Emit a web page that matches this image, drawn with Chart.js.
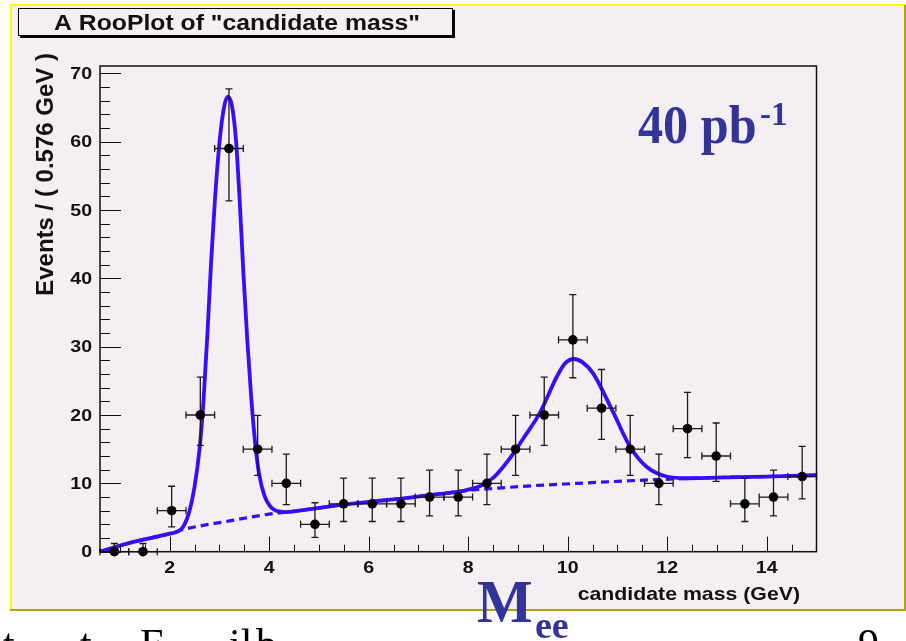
<!DOCTYPE html>
<html>
<head>
<meta charset="utf-8">
<script src="https://cdn.jsdelivr.net/npm/chart.js@4/dist/chart.umd.min.js"></script>
<style>
  html, body { margin: 0; padding: 0; background: #ffffff; }
  canvas { display: block; }
</style>
</head>
<body>
<canvas id="grafico" width="906" height="641"></canvas>
<script>
// datos del histograma (bin de 0.576 GeV entre 0.6 y 15)
const centrosBin = [0.888, 1.464, 2.040, 2.616, 3.192, 3.768, 4.344, 4.920, 5.496, 6.072, 6.648, 7.224,
  7.800, 8.376, 8.952, 9.528, 10.104, 10.680, 11.256, 11.832, 12.408, 12.984, 13.560, 14.136, 14.712];
const eventos = [0, 0, 6, 20, 59, 15, 10, 4, 7, 7, 7, 8, 8, 10, 15, 20, 31, 21, 15, 10, 18, 14, 7, 8, 11];
const errInf = [0, 0, 2.38, 4.45, 7.66, 3.83, 3.11, 1.91, 2.58, 2.58, 2.58, 2.77, 2.77, 3.11, 3.83, 4.45,
  5.55, 4.56, 3.83, 3.11, 4.22, 3.70, 2.58, 2.77, 3.27];
const errSup = [1.2, 1.2, 3.58, 5.55, 8.72, 4.96, 4.27, 3.16, 3.77, 3.77, 3.77, 3.95, 3.95, 4.27, 4.96, 5.55,
  6.61, 5.66, 4.96, 4.27, 5.32, 4.83, 3.77, 3.95, 4.42];
const mediaBin = 0.288;

// ajuste total (señal + fondo)
const ajusteX = [0.6, 1.2, 2.0, 2.2, 2.3, 2.4, 2.5, 2.6, 2.68, 2.76, 2.83, 2.91, 3.01, 3.1, 3.17, 3.25,
  3.33, 3.41, 3.48, 3.56, 3.64, 3.72, 3.8, 3.9, 4.05, 4.3, 4.6, 5.4, 6.0, 6.7, 7.3, 7.9, 8.24, 8.5, 8.7,
  8.91, 9.11, 9.44, 9.78, 9.95, 10.13, 10.3, 10.51, 10.92, 11.25, 11.59, 11.99, 12.4, 13.0, 14.0, 15.0];
const ajusteY = [0, 1.3, 2.65, 3.1, 4.0, 6.0, 9.5, 15.0, 22.0, 32.0, 42, 51.5, 60.5, 65.3, 66.6, 65.3,
  60.5, 51, 41, 31, 22.5, 15.8, 11.3, 8.3, 6.4, 5.8, 6.0, 6.8, 7.3, 7.8, 8.35, 8.9, 9.6, 10.8, 12.4,
  14.4, 16.6, 20.3, 25.6, 27.6, 28.2, 27.7, 26.1, 20.3, 15.4, 12.4, 11.0, 10.75, 10.85, 11.0, 11.2];

// solo fondo (línea discontinua)
const fondoX = [0.6, 1.2, 2.0, 2.3, 3.2, 4.0, 4.6, 5.4, 6.0, 6.7, 7.3, 7.9, 8.6, 9.4, 10.2, 11.0, 11.8,
  12.4, 13.0, 14.0, 15.0];
const fondoY = [0, 1.3, 2.65, 3.3, 4.5, 5.5, 6.0, 6.8, 7.3, 7.8, 8.35, 8.9, 9.3, 9.7, 10.0, 10.3, 10.55,
  10.7, 10.85, 11.0, 11.2];

// marcas de los ejes
const ticksX = [2, 4, 6, 8, 10, 12, 14];
const ticksY = [0, 10, 20, 30, 40, 50, 60, 70];
const etiquetasX = ["2", "4", "6", "8", "10", "12", "14"];
const etiquetasY = ["0", "10", "20", "30", "40", "50", "60", "70"];

const AZUL = "#3a0cff";
const AZUL_TEXTO = "#333399";
const LILA = "#f4eff3";
const SANS = "'Liberation Sans', Arial, sans-serif";
const SERIF = "'Liberation Serif', 'Times New Roman', serif";

function texto(ctx, s, x, y, fuente, alin, escala) {
  ctx.save();
  ctx.translate(x, y);
  ctx.scale(escala || 1, 1);
  ctx.font = fuente;
  ctx.textAlign = alin || "left";
  ctx.fillText(s, 0, 0);
  ctx.restore();
}

const pluginFondo = {
  id: "fondo",
  beforeDraw(chart) {
    const ctx = chart.ctx;
    ctx.save();
    ctx.fillStyle = "#ffffff";
    ctx.fillRect(0, 0, chart.width, chart.height);
    ctx.fillStyle = LILA;
    ctx.fillRect(11, 6, 894, 604);
    // bordes del lienzo
    ctx.fillStyle = "#ffff00";
    ctx.fillRect(10, 4, 896, 2);
    ctx.fillRect(10, 4, 2, 607);
    ctx.fillStyle = "#a8a800";
    ctx.fillRect(904, 5, 2, 606);
    ctx.fillRect(10, 609, 896, 2);

    // caja del título
    ctx.fillStyle = "#000";
    ctx.fillRect(452, 10, 3, 28);
    ctx.fillRect(20, 35, 435, 3);
    ctx.fillStyle = LILA;
    ctx.fillRect(18, 8, 434, 27);
    ctx.strokeStyle = "#000";
    ctx.lineWidth = 1;
    ctx.strokeRect(18.5, 8.5, 434, 27);
    ctx.fillStyle = "#111";
    texto(ctx, 'A RooPlot of "candidate mass"', 237, 29.5, "bold 22.5px " + SANS, "center", 1.1);
    ctx.restore();
  }
};

const pluginErrores = {
  id: "errores",
  afterDatasetsDraw(chart) {
    const ctx = chart.ctx;
    const sx = chart.scales.x, sy = chart.scales.y;
    ctx.save();
    ctx.strokeStyle = "#1a1a1a";
    ctx.lineWidth = 1.3;
    const c = 3.5;
    centrosBin.forEach((xc, i) => {
      const px = sx.getPixelForValue(xc);
      const py = sy.getPixelForValue(eventos[i]);
      const x1 = sx.getPixelForValue(xc - mediaBin), x2 = sx.getPixelForValue(xc + mediaBin);
      const y1 = sy.getPixelForValue(eventos[i] - errInf[i]), y2 = sy.getPixelForValue(eventos[i] + errSup[i]);
      ctx.beginPath();
      ctx.moveTo(x1, py); ctx.lineTo(x2, py);
      ctx.moveTo(x1, py - c); ctx.lineTo(x1, py + c);
      ctx.moveTo(x2, py - c); ctx.lineTo(x2, py + c);
      ctx.moveTo(px, y1); ctx.lineTo(px, y2);
      ctx.moveTo(px - c, y2); ctx.lineTo(px + c, y2);
      if (errInf[i] > 0) { ctx.moveTo(px - c, y1); ctx.lineTo(px + c, y1); }
      ctx.stroke();
      ctx.fillStyle = "#000";
      ctx.beginPath();
      ctx.arc(px, py, 4.8, 0, Math.PI * 2);
      ctx.fill();
    });
    ctx.restore();
  }
};

const pluginEjes = {
  id: "ejes",
  afterDraw(chart) {
    const ctx = chart.ctx;
    const a = chart.chartArea;
    const sx = chart.scales.x, sy = chart.scales.y;
    ctx.save();
    ctx.strokeStyle = "#111";
    ctx.lineWidth = 1;

    // marcas menores y mayores (hacia dentro del marco)
    ctx.beginPath();
    for (let v = 1.0; v < 15; v += 0.5) {
      const px = Math.round(sx.getPixelForValue(v)) + 0.5;
      const largo = (v % 2 === 0) ? 15 : 7;
      ctx.moveTo(px, a.bottom); ctx.lineTo(px, a.bottom - largo);
    }
    for (let v = 0; v <= 70; v += 2) {
      const py = Math.round(sy.getPixelForValue(v)) + 0.5;
      const largo = (v % 10 === 0) ? 21 : 10;
      ctx.moveTo(a.left, py); ctx.lineTo(a.left + largo, py);
    }
    ctx.stroke();

    // marco
    ctx.lineWidth = 1.5;
    ctx.strokeRect(a.left, a.top, a.right - a.left, a.bottom - a.top);

    // etiquetas
    ctx.fillStyle = "#111";
    ctx.textBaseline = "middle";
    ticksY.forEach((v, i) => {
      texto(ctx, etiquetasY[i], 92, sy.getPixelForValue(v) + 1, "bold 17px " + SANS, "right", 1.15);
    });
    ticksX.forEach((v, i) => {
      texto(ctx, etiquetasX[i], sx.getPixelForValue(v), 568, "bold 17px " + SANS, "center", 1.15);
    });
    ctx.textBaseline = "alphabetic";
    texto(ctx, "candidate mass (GeV)", 800, 600, "bold 19px " + SANS, "right", 1.12);

    // título del eje Y
    ctx.save();
    ctx.translate(53, 53);
    ctx.rotate(-Math.PI / 2);
    ctx.font = "bold 24px " + SANS;
    ctx.textAlign = "right";
    ctx.fillText("Events / ( 0.576 GeV )", 0, 0);
    ctx.restore();

    // luminosidad
    ctx.fillStyle = AZUL_TEXTO;
    texto(ctx, "40 pb", 638, 143, "bold 54px " + SERIF, "left", 0.93);
    texto(ctx, "-1", 760, 125, "bold 33px " + SERIF, "left", 1);

    // M_ee
    texto(ctx, "M", 477, 622, "bold 62px " + SERIF, "left", 0.95);
    texto(ctx, "ee", 535, 638, "bold 38px " + SERIF, "left", 1);

    // texto de la diapositiva cortado abajo
    ctx.fillStyle = "#000";
    ctx.font = "42px " + SERIF;
    ctx.fillText("t", 3, 658);
    ctx.fillText("t", 80, 658);
    ctx.fillText("F", 140, 658);
    ctx.fillText("il", 229, 658);
    ctx.fillText("b", 256, 658);
    ctx.fillText("9", 858, 658);
    ctx.restore();
  }
};

const ctx = document.getElementById("grafico").getContext("2d");
new Chart(ctx, {
  type: "scatter",
  data: {
    datasets: [
      {
        label: "datos",
        data: centrosBin.map((x, i) => ({ x: x, y: eventos[i] })),
        pointRadius: 0,
        showLine: false,
        order: 0,
      },
      {
        label: "ajuste",
        data: ajusteX.map((x, i) => ({ x: x, y: ajusteY[i] })),
        showLine: true,
        borderColor: AZUL,
        borderWidth: 3.8,
        pointRadius: 0,
        cubicInterpolationMode: "monotone",
        order: 1,
      },
      {
        label: "fondo",
        data: fondoX.map((x, i) => ({ x: x, y: fondoY[i] })),
        showLine: true,
        borderColor: AZUL,
        borderWidth: 3.2,
        borderDash: [8, 5],
        pointRadius: 0,
        cubicInterpolationMode: "monotone",
        order: 2,
      },
    ],
  },
  options: {
    responsive: false,
    animation: false,
    events: [],
    layout: { padding: { left: 100, top: 66, right: 89.5, bottom: 89.3 } },
    plugins: { legend: { display: false }, tooltip: { enabled: false } },
    scales: {
      x: { type: "linear", min: 0.6, max: 15, display: false },
      y: { type: "linear", min: 0, max: 71.07, display: false },
    },
  },
  plugins: [pluginFondo, pluginErrores, pluginEjes],
});
</script>
</body>
</html>
